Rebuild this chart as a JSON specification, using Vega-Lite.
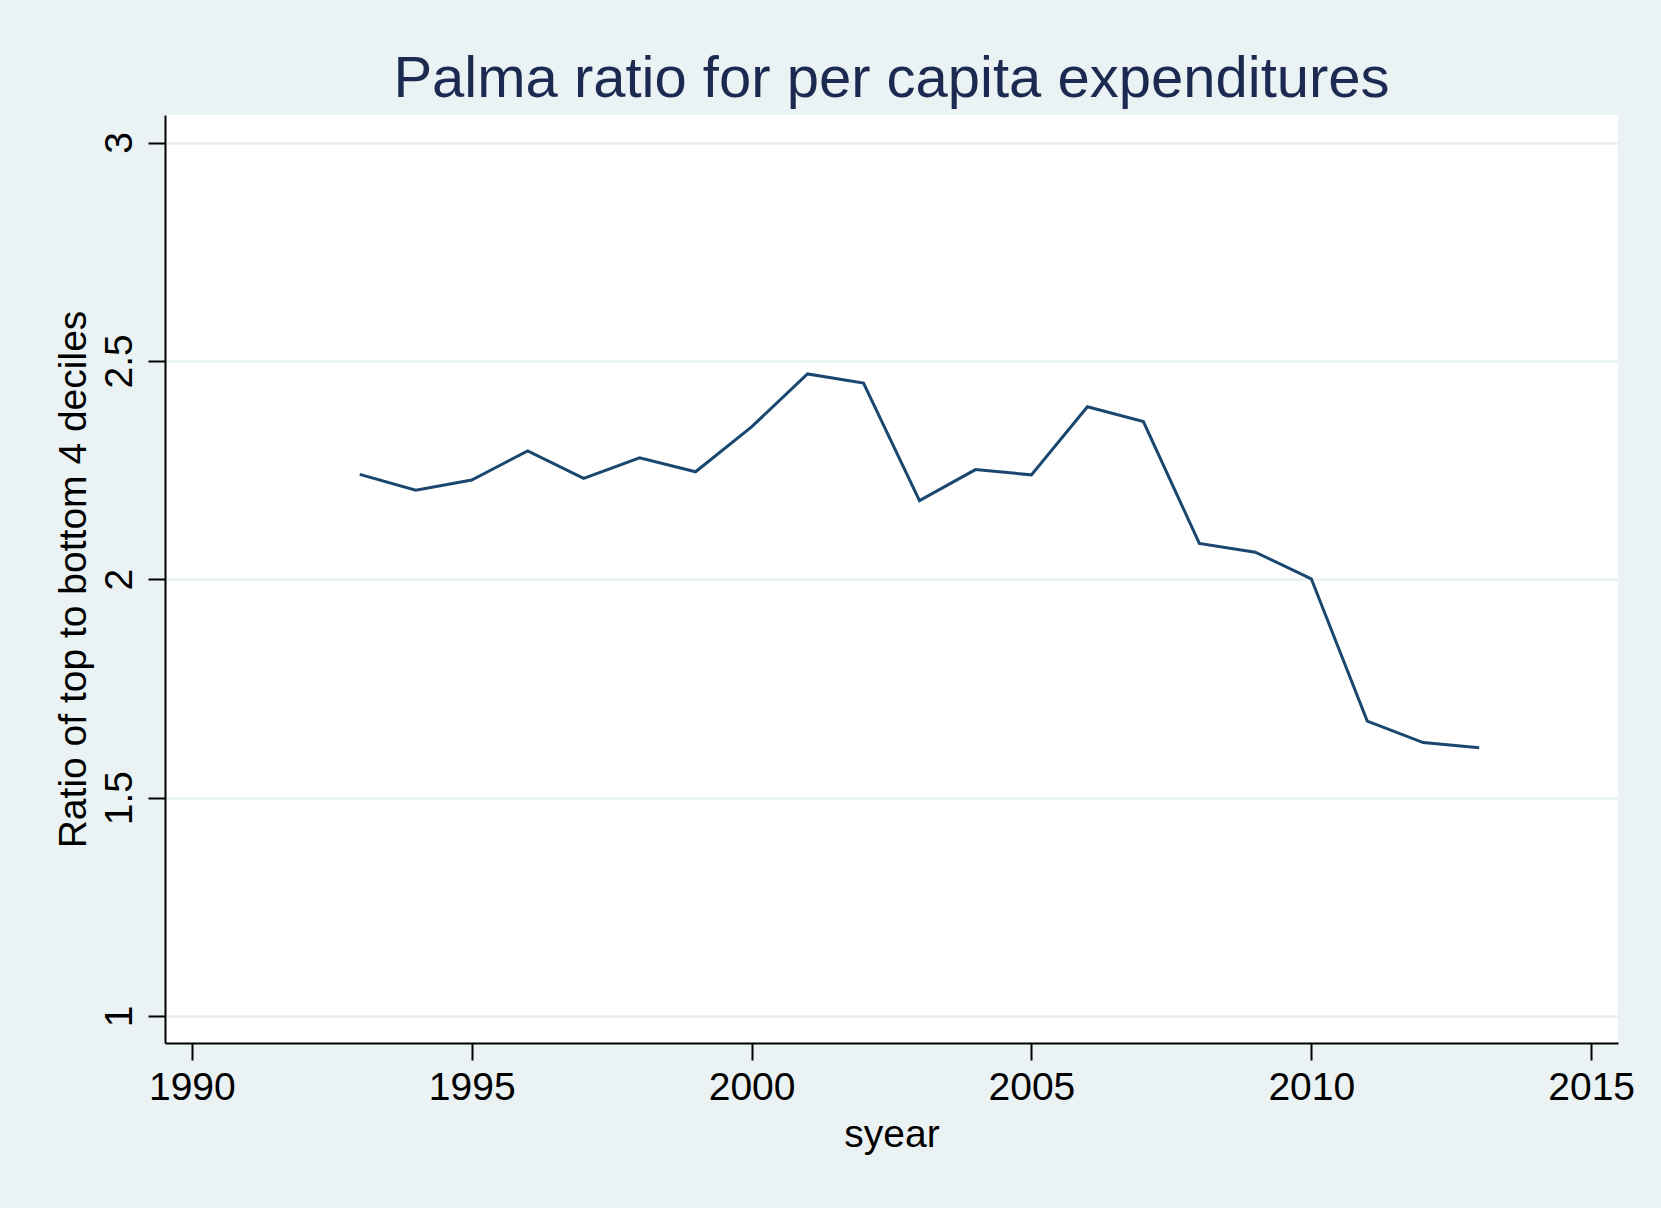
{
  "$schema": "https://vega.github.io/schema/vega-lite/v6.json",
  "autosize": {"type": "none"},
  "padding": {"left": 165, "top": 115, "right": 43, "bottom": 165},
  "width": 1453,
  "height": 928,
  "background": "#EAF2F3",
  "title": {
    "text": "Palma ratio for per capita expenditures",
    "font": "Liberation Sans",
    "fontSize": 58,
    "fontWeight": "normal",
    "color": "#1C2A52",
    "anchor": "middle",
    "frame": "group",
    "offset": 6
  },
  "data": {
    "values": [
      {"syear": 1993, "palma": 2.240},
      {"syear": 1994, "palma": 2.204},
      {"syear": 1995, "palma": 2.227},
      {"syear": 1996, "palma": 2.294},
      {"syear": 1997, "palma": 2.231},
      {"syear": 1998, "palma": 2.278},
      {"syear": 1999, "palma": 2.246},
      {"syear": 2000, "palma": 2.349},
      {"syear": 2001, "palma": 2.470},
      {"syear": 2002, "palma": 2.449},
      {"syear": 2003, "palma": 2.180},
      {"syear": 2004, "palma": 2.251},
      {"syear": 2005, "palma": 2.239},
      {"syear": 2006, "palma": 2.395},
      {"syear": 2007, "palma": 2.361},
      {"syear": 2008, "palma": 2.082},
      {"syear": 2009, "palma": 2.062},
      {"syear": 2010, "palma": 2.001},
      {"syear": 2011, "palma": 1.675},
      {"syear": 2012, "palma": 1.626},
      {"syear": 2013, "palma": 1.614}
    ]
  },
  "mark": {"type": "line", "color": "#1A476F", "strokeWidth": 3},
  "encoding": {
    "x": {
      "field": "syear",
      "type": "quantitative",
      "scale": {"domain": [1989.52, 2015.48], "nice": false, "zero": false},
      "axis": {
        "title": "syear",
        "values": [1990, 1995, 2000, 2005, 2010, 2015],
        "format": "d",
        "grid": false,
        "tickSize": 17,
        "labelPadding": 39,
        "labelBaseline": "alphabetic",
        "titlePadding": 8
      }
    },
    "y": {
      "field": "palma",
      "type": "quantitative",
      "scale": {"domain": [0.938, 3.063], "nice": false, "zero": false},
      "axis": {
        "title": "Ratio of top to bottom 4 deciles",
        "values": [1, 1.5, 2, 2.5, 3],
        "format": "~g",
        "grid": true,
        "gridColor": "#EAF2F3",
        "gridWidth": 3,
        "tickSize": 17,
        "labelAngle": 270,
        "labelAlign": "center",
        "labelBaseline": "alphabetic",
        "labelPadding": 17,
        "titlePadding": 7
      }
    }
  },
  "config": {
    "view": {"fill": "white", "stroke": null},
    "axis": {
      "domainColor": "black",
      "domainWidth": 2,
      "tickColor": "black",
      "tickWidth": 2,
      "labelFont": "Liberation Sans",
      "labelFontSize": 39,
      "labelColor": "black",
      "titleFont": "Liberation Sans",
      "titleFontSize": 39,
      "titleFontWeight": "normal",
      "titleColor": "black",
      "labelFlush": false,
      "labelOverlap": false
    }
  }
}
